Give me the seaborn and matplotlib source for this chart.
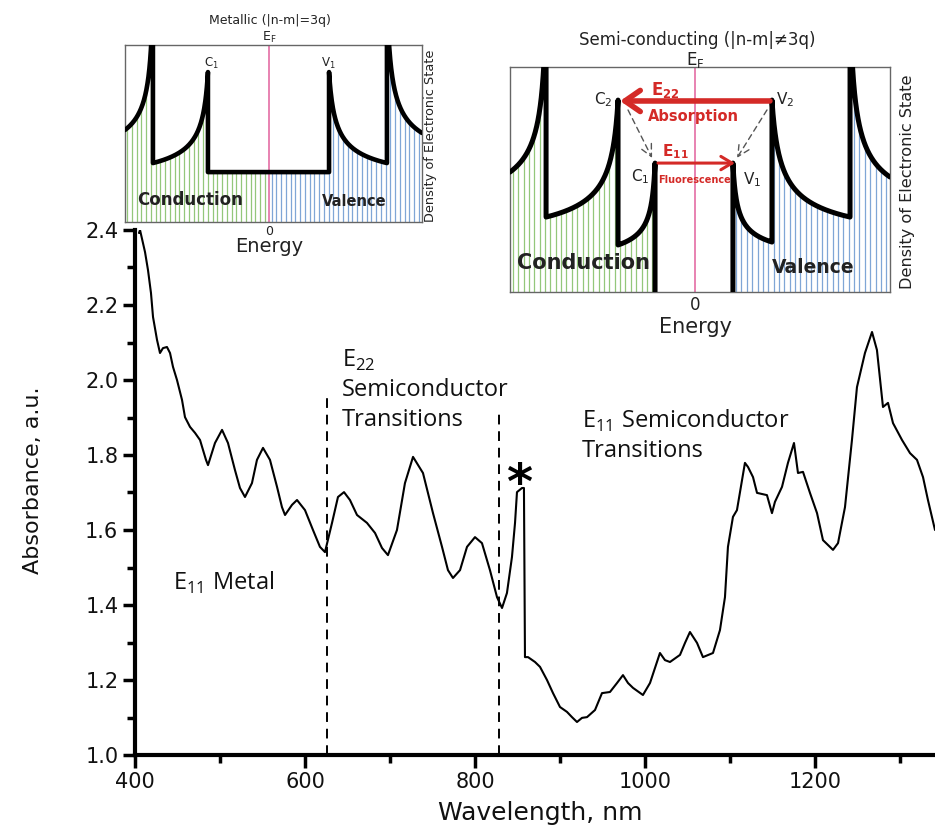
import numpy as np
import pandas as pd
import matplotlib
matplotlib.use("Agg")
import matplotlib.pyplot as plt
import seaborn as sns
from matplotlib.ticker import MultipleLocator, FormatStrFormatter

# ---- absorbance spectrum -------------------------------------------------
wavelength = [404.7, 405.9, 411.8, 415.3, 418.8, 421.2, 425.9, 429.4, 432.9, 437.6,
              441.2, 444.7, 449.4, 455.3, 458.8, 464.7, 470.6, 476.5, 480.0, 483.5,
              485.9, 494.1, 502.4, 509.4, 517.6, 523.5, 529.4, 537.6, 543.5, 550.6,
              558.8, 567.1, 572.9, 576.5, 584.7, 590.6, 600.0, 609.4, 617.6, 623.5,
              631.8, 638.8, 645.9, 652.9, 661.2, 672.9, 682.4, 690.6, 697.6, 708.2,
              717.6, 727.1, 738.8, 750.6, 761.2, 768.2, 774.1, 782.4, 790.6, 800.0,
              808.2, 817.6, 825.9, 831.8, 837.6, 843.5, 847.1, 849.4, 855.3, 857.6,
              858.8, 862.4, 870.6, 876.5, 884.7, 891.8, 900.0, 908.2, 914.1, 920.0,
              925.9, 931.8, 941.2, 949.4, 958.8, 967.1, 974.1, 980.0, 985.9, 997.6,
              1005.9, 1017.6, 1023.5, 1029.4, 1041.2, 1047.1, 1052.9, 1061.2, 1068.2, 1080.0,
              1088.2, 1094.1, 1097.6, 1103.5, 1108.2, 1117.6, 1121.2, 1127.1, 1131.8, 1143.5,
              1149.4, 1152.9, 1161.2, 1168.2, 1175.3, 1180.0, 1185.9, 1194.1, 1202.4, 1209.4,
              1221.2, 1227.1, 1235.3, 1243.5, 1249.4, 1258.8, 1267.1, 1272.9, 1280.0, 1285.9,
              1291.8, 1302.4, 1311.8, 1320.0, 1327.1, 1332.9, 1341.2]
absorbance = [2.392, 2.400, 2.341, 2.293, 2.232, 2.168, 2.107, 2.072, 2.085, 2.088,
              2.072, 2.035, 2.000, 1.947, 1.901, 1.875, 1.859, 1.840, 1.813, 1.787,
              1.773, 1.832, 1.867, 1.832, 1.760, 1.712, 1.688, 1.725, 1.787, 1.819,
              1.787, 1.715, 1.661, 1.640, 1.667, 1.680, 1.653, 1.600, 1.555, 1.541,
              1.619, 1.688, 1.701, 1.680, 1.640, 1.619, 1.592, 1.552, 1.533, 1.600,
              1.725, 1.795, 1.752, 1.645, 1.555, 1.493, 1.472, 1.493, 1.555, 1.581,
              1.565, 1.493, 1.421, 1.392, 1.432, 1.528, 1.619, 1.701, 1.712, 1.712,
              1.261, 1.261, 1.248, 1.235, 1.200, 1.165, 1.128, 1.115, 1.101, 1.088,
              1.099, 1.101, 1.120, 1.165, 1.168, 1.192, 1.213, 1.192, 1.179, 1.160,
              1.192, 1.272, 1.253, 1.248, 1.267, 1.299, 1.328, 1.299, 1.261, 1.272,
              1.333, 1.421, 1.555, 1.635, 1.653, 1.779, 1.768, 1.741, 1.699, 1.693,
              1.645, 1.675, 1.715, 1.779, 1.832, 1.752, 1.755, 1.699, 1.645, 1.573,
              1.547, 1.565, 1.661, 1.840, 1.981, 2.072, 2.128, 2.080, 1.928, 1.939,
              1.885, 1.840, 1.805, 1.787, 1.741, 1.680, 1.600]

# region boundaries (nm) and their dashed-marker heights
region_bounds = [626, 828]
region_tops = [1.96, 1.92]

# ---- density-of-states schematics ----------------------------------------
# each segment: (singularity energy, far-end energy, value at singularity, value at far end)
metal_segments = [(-0.806, -1.0, 1.3, 0.52),
                  (-0.424, -0.806, 0.847, 0.333),
                  (-0.424, 0.417, 0.282, 0.282),
                  (0.417, 0.819, 0.847, 0.333),
                  (0.819, 1.0625, 1.3, 0.503)]
semi_conduction = [(-0.805, -1.0, 1.3, 0.533),
                   (-0.416, -0.805, 0.853, 0.333),
                   (-0.216, -0.416, 0.573, 0.209)]
semi_valence = [(0.205, 0.416, 0.573, 0.222),
                (0.416, 0.838, 0.853, 0.333),
                (0.838, 1.054, 1.3, 0.511)]

K = 0.065  # sharpness of the van Hove tails


def vh_shape(t):
    return (1 / np.sqrt(t + K) - 1 / np.sqrt(1 + K)) / (1 / np.sqrt(K) - 1 / np.sqrt(1 + K))


def segment_points(seg, n=150):
    e_sing, e_far, peak, far_val = seg
    t = np.linspace(0, 1, n)
    e = e_sing + (e_far - e_sing) * t
    d = far_val + (peak - far_val) * vh_shape(t)
    if e_far < e_sing:
        e, d = e[::-1], d[::-1]
    return e, d


def dos_value(E, segs):
    for e_sing, e_far, peak, far_val in segs:
        lo, hi = min(e_sing, e_far), max(e_sing, e_far)
        if lo <= E <= hi:
            t = abs(E - e_sing) / abs(e_far - e_sing)
            return far_val + (peak - far_val) * vh_shape(t)
    return 0.0


def chain(segs):
    pts = [segment_points(s) for s in segs]
    return np.concatenate([p[0] for p in pts]), np.concatenate([p[1] for p in pts])


GREEN = "#93C77A"
BLUE = "#7FA6D6"
PINK = "#E2609C"
RED = "#D42A27"
INK = "#222222"

sns.set_style("ticks", {"axes.edgecolor": "black", "xtick.color": "black",
                        "ytick.color": "black", "text.color": "black",
                        "axes.labelcolor": "black"})
plt.rcParams["font.family"] = ["DejaVu Sans"]
plt.rcParams["axes.linewidth"] = 1.0

fig = plt.figure(figsize=(9.35, 8.31), dpi=100, facecolor="white")

# ---- main spectrum -------------------------------------------------------
ax = fig.add_axes([135 / 935, 1 - 755 / 831, 800 / 935, 525 / 831])
spec = pd.DataFrame({"Wavelength": wavelength, "Absorbance": absorbance})
sns.lineplot(data=spec, x="Wavelength", y="Absorbance", ax=ax, color="black",
             lw=1.5, estimator=None, sort=False)
ax.set_xlim(400, 1341.2)
ax.set_ylim(1.0, 2.4)
for s in ("top", "right"):
    ax.spines[s].set_visible(False)
for s in ("left", "bottom"):
    ax.spines[s].set_linewidth(3)
    ax.spines[s].set_color("black")
ax.xaxis.set_major_locator(MultipleLocator(200))
ax.xaxis.set_minor_locator(MultipleLocator(100))
ax.yaxis.set_major_locator(MultipleLocator(0.2))
ax.yaxis.set_minor_locator(MultipleLocator(0.1))
ax.yaxis.set_major_formatter(FormatStrFormatter("%.1f"))
ax.tick_params(which="major", length=9, width=2.5, labelsize=15, pad=3,
               color="black", labelcolor="#111111")
ax.tick_params(which="minor", length=6, width=2.5, color="black")
ax.set_xlabel("Wavelength, nm", fontsize=18, color="#111111")
ax.set_ylabel("Absorbance, a.u.", fontsize=16, color="#111111")
ax.xaxis.set_label_coords(0.506, -0.088)
ax.yaxis.set_label_coords(-0.115, 0.524)

for xb, top in zip(region_bounds, region_tops):
    ax.plot([xb, xb], [1.0, top], color="black", lw=1.4, ls=(0, (5, 3.5)))

ann = dict(family=["Open Sans", "DejaVu Sans"], fontsize=17, color="#111111",
           va="center", ha="left")
ax.text(643.5, 2.053, r"E$_\mathregular{22}$", **ann)
ax.text(643.5, 1.973, "Semiconductor", **ann)
ax.text(643.5, 1.893, "Transitions", **ann)
ax.text(925.9, 1.891, r"E$_\mathregular{11}$ Semiconductor", **ann)
ax.text(925.9, 1.811, "Transitions", **ann)
ax.text(444.7, 1.459, r"E$_\mathregular{11}$ Metal", **ann)
ax.text(852.0, 1.683, "*", fontsize=36, ha="center", va="baseline", color="black",
        weight="bold")


def dos_panel(axi, xlim):
    axi.set_xlim(*xlim)
    axi.set_ylim(0, 1)
    axi.set_xticks([])
    axi.set_yticks([])
    axi.set_facecolor("white")
    for s in axi.spines.values():
        s.set_color("#666666")
        s.set_linewidth(1.0)
    axi.axvline(0, color=PINK, lw=1.1, zorder=2)


def hatch(axi, xs, segs, color):
    h = [min(dos_value(x, segs), 1.0) for x in xs]
    axi.vlines(xs, 0, h, colors=color, lw=0.9, zorder=1)


# ---- metallic inset ------------------------------------------------------
axm = fig.add_axes([125 / 935, 1 - 222 / 831, 297 / 935, 177 / 831])
dos_panel(axm, (-1.0, 1.0625))
hatch(axm, np.arange(-0.985, 0.0, 0.033), metal_segments, GREEN)
hatch(axm, np.arange(0.018, 1.06, 0.033), metal_segments, BLUE)
me, md = chain(metal_segments)
axm.plot(me, md, color="black", lw=3.3, zorder=3)
small = dict(color=INK, ha="center", va="center", fontsize=8.5)
axm.text(-0.403, 0.898, r"C$_\mathregular{1}$", **small)
axm.text(0.41, 0.898, r"V$_\mathregular{1}$", **small)
axm.text(-0.549, 0.124, "Conduction", fontsize=12, weight="bold", ha="center",
         va="center", color=INK, zorder=5)
axm.text(0.59, 0.113, "Valence", fontsize=10.5, weight="bold", ha="center",
         va="center", color=INK, zorder=5)
axm.text(0.488, 1.141, "Metallic (|n-m|=3q)", transform=axm.transAxes,
         fontsize=9, ha="center", va="center", color=INK)
axm.text(0.0, 1.04, r"E$_\mathregular{F}$", fontsize=9, ha="center", va="center",
         color=INK, clip_on=False)
axm.text(0.0, -0.056, "0", fontsize=9, ha="center", va="center", color=INK, clip_on=False)
axm.text(0.0, -0.141, "Energy", fontsize=14, ha="center", va="center", color=INK,
         clip_on=False)
axm.text(1.027, 0.486, "Density of Electronic State", transform=axm.transAxes,
         rotation=90, fontsize=9.3, ha="center", va="center", color=INK)

# ---- semiconducting inset ------------------------------------------------
axs = fig.add_axes([510 / 935, 1 - 292 / 831, 380 / 935, 225 / 831])
dos_panel(axs, (-1.0, 1.054))
hatch(axs, np.arange(-0.985, -0.216, 0.029), semi_conduction, GREEN)
hatch(axs, np.arange(0.222, 1.054, 0.029), semi_valence, BLUE)
ce, cd = chain(semi_conduction)
ve, vd = chain(semi_valence)
axs.plot(np.append(ce, ce[-1]), np.append(cd, 0.0), color="black", lw=3.6, zorder=3)
axs.plot(np.insert(ve, 0, ve[0]), np.insert(vd, 0, 0.0), color="black", lw=3.6, zorder=3)

label = dict(color=INK, ha="center", va="center", fontsize=11)
axs.text(-0.497, 0.853, r"C$_\mathregular{2}$", **label)
axs.text(0.486, 0.853, r"V$_\mathregular{2}$", **label)
axs.text(-0.297, 0.511, r"C$_\mathregular{1}$", **label)
axs.text(0.308, 0.498, r"V$_\mathregular{1}$", **label)

axs.annotate("", xy=(-0.405, 0.849), xytext=(0.405, 0.849),
             arrowprops=dict(arrowstyle="->,head_length=0.55,head_width=0.38",
                             lw=4, color=RED, shrinkA=0, shrinkB=0,
                             mutation_scale=20), zorder=4)
axs.annotate("", xy=(0.216, 0.573), xytext=(-0.2, 0.573),
             arrowprops=dict(arrowstyle="->,head_length=0.5,head_width=0.3",
                             lw=2.2, color=RED, shrinkA=0, shrinkB=0,
                             mutation_scale=16), zorder=4)
for start, end in (((-0.362, 0.809), (-0.232, 0.596)), ((0.389, 0.809), (0.227, 0.596))):
    axs.annotate("", xy=end, xytext=start,
                 arrowprops=dict(arrowstyle="->,head_length=0.6,head_width=0.3",
                                 lw=1.0, color="#555555", ls=(0, (4, 3)),
                                 shrinkA=0, shrinkB=0, mutation_scale=14), zorder=4)

red_bold = dict(color=RED, weight="bold", ha="center", va="center", zorder=5)
axs.text(-0.162, 0.898, r"E$_\mathregular{22}$", fontsize=12, **red_bold)
axs.text(-0.011, 0.778, "Absorption", fontsize=10.5, **red_bold)
axs.text(-0.108, 0.622, r"E$_\mathregular{11}$", fontsize=11, **red_bold)
axs.text(-0.005, 0.498, "Fluorescence", fontsize=7, **red_bold)

axs.text(-0.605, 0.129, "Conduction", fontsize=15, weight="bold", ha="center",
         va="center", color=INK, zorder=5)
axs.text(0.638, 0.111, "Valence", fontsize=13.5, weight="bold", ha="center",
         va="center", color=INK, zorder=5)
axs.text(0.492, 1.12, "Semi-conducting (|n-m|\u22603q)", transform=axs.transAxes,
         fontsize=12, ha="center", va="center", color=INK)
axs.text(0.0, 1.031, r"E$_\mathregular{F}$", fontsize=12, ha="center", va="center",
         color=INK, clip_on=False)
axs.text(0.0, -0.058, "0", fontsize=12, ha="center", va="center", color=INK, clip_on=False)
axs.text(0.0, -0.156, "Energy", fontsize=15, ha="center", va="center", color=INK,
         clip_on=False)
axs.text(1.045, 0.489, "Density of Electronic State", transform=axs.transAxes,
         rotation=90, fontsize=11.6, ha="center", va="center", color=INK)

fig.savefig("out.png", dpi=100, facecolor="white")
